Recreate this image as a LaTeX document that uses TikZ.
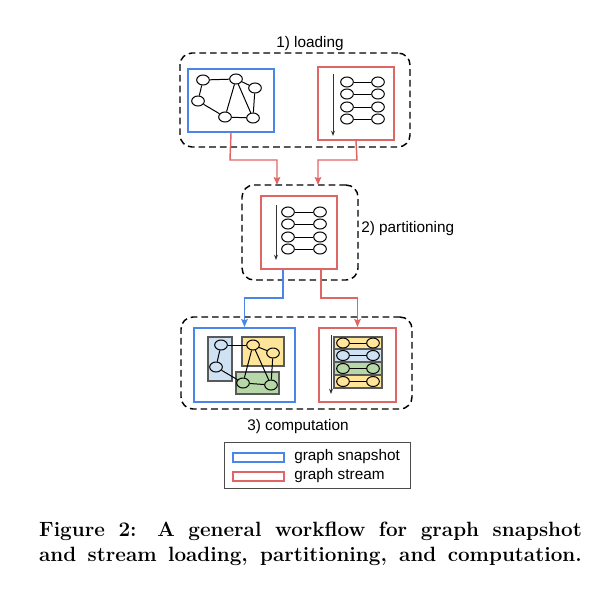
\documentclass[tikz,border=0pt]{standalone}
\usepackage{fontspec}
\newfontfamily\sansfnt{Liberation Sans}
\usetikzlibrary{arrows.meta,shapes.geometric,fit}

\definecolor{snapblue}{HTML}{4A86E8}
\definecolor{streamred}{HTML}{E06666}
\definecolor{partblue}{HTML}{CFE2F3}
\definecolor{partyellow}{HTML}{FFE599}
\definecolor{partgreen}{HTML}{B6D7A8}
\definecolor{partedge}{HTML}{595959}

\tikzset{
  etapa/.style={draw=black, dash pattern=on 5pt off 3pt, line width=1.1pt, rounded corners=9pt, inner sep=0pt},
  snap/.style={draw=snapblue, line width=1.5pt, inner sep=0pt},
  flujo/.style={draw=streamred, line width=1.5pt, inner sep=0pt},
  vert/.style={draw=black, ellipse, line width=0.75pt, minimum width=9.5pt, minimum height=7.5pt, inner sep=0pt},
  arista/.style={draw=black, line width=0.75pt},
  orden/.style={draw=black!80, line width=0.75pt, -{Stealth[length=4pt,width=3pt]}},
  particion/.style={draw=partedge, line width=1.1pt, inner sep=0pt},
  conexion/.style={line width=1.1pt, -{Stealth[length=6pt,width=5pt,inset=1pt]}},
  etiqueta/.style={font=\sansfnt\fontsize{11.5}{13}\selectfont, inner sep=0pt},
  leyenda/.style={draw=black!70, line width=0.75pt, inner sep=0pt},
  pie/.style={anchor=base, inner sep=0pt, font=\fontsize{15.5}{18}\selectfont\bfseries}
}

\begin{document}
\begin{tikzpicture}[x=0.75pt, y=-0.75pt]
    \useasboundingbox (0,0) rectangle (605,592);
    %%%% ETAPAS
    \node[etapa, fit={(180,53) (410,147)}] (carga) {};
    \node[etapa, fit={(242,185) (358,280)}] (particion) {};
    \node[etapa, fit={(181,317) (412,409)}] (computo) {};
    \node[etiqueta] at (310,44) (tcarga) {1) loading};
    \node[etiqueta, anchor=west] at (361,229) (tparticion) {2) partitioning};
    \node[etiqueta] at (298,427) (tcomputo) {3) computation};

    %%%% 1) carga: snapshot
    \node[snap, fit={(188,69) (274,132)}] (snapA) {};
    \node[vert] (a1) at (203,80) {};
    \node[vert] (b1) at (236,79) {};
    \node[vert] (c1) at (255,88) {};
    \node[vert] (d1) at (198,101) {};
    \node[vert] (e1) at (225,117) {};
    \node[vert] (f1) at (253,118) {};
    \draw [arista] (a1) -- (b1);
    \draw [arista] (a1) -- (d1);
    \draw [arista] (d1) -- (e1);
    \draw [arista] (b1) -- (e1);
    \draw [arista] (b1) -- (f1);
    \draw [arista] (b1) -- (c1);
    \draw [arista] (c1) -- (f1);
    \draw [arista] (e1) -- (f1);

    %%%% 1) carga: stream
    \node[flujo, fit={(318,67) (394,140)}] (streamA) {};
    \coordinate (iniA) at (333,74);
    \coordinate (finA) at (333,136);
    \draw [orden] (iniA) -- (finA);
    \foreach \y [count=\i] in {82,94,107,119} {
      \node[vert] (la\i) at (347,\y) {};
      \node[vert] (ra\i) at (378,\y) {};
      \draw [arista] (la\i) -- (ra\i);
    }

    %%%% 2) particion
    \node[flujo, fit={(261,196) (337,269)}] (streamB) {};
    \coordinate (iniB) at (276,205);
    \coordinate (finB) at (276,260);
    \draw [orden] (iniB) -- (finB);
    \foreach \y [count=\i] in {212,224,237,249} {
      \node[vert] (lb\i) at (288,\y) {};
      \node[vert] (rb\i) at (320,\y) {};
      \draw [arista] (lb\i) -- (rb\i);
    }

    %%%% 3) computo: snapshot particionado
    \node[snap, fit={(194,328) (295,402)}] (snapC) {};
    \node[particion, fill=partblue, fit={(208,337) (232,381)}] (pazul) {};
    \node[particion, fill=partyellow, fit={(242,337) (284,366)}] (pamar) {};
    \node[particion, fill=partgreen, fit={(236,372) (279,394)}] (pverde) {};
    \node[vert] (a3) at (221,345) {};
    \node[vert] (b3) at (216,367) {};
    \node[vert] (c3) at (253,345) {};
    \node[vert] (d3) at (273,353) {};
    \node[vert] (e3) at (243,383) {};
    \node[vert] (f3) at (271,385) {};
    \draw [arista] (a3) -- (c3);
    \draw [arista] (a3) -- (b3);
    \draw [arista] (b3) -- (e3);
    \draw [arista] (c3) -- (e3);
    \draw [arista] (c3) -- (f3);
    \draw [arista] (c3) -- (d3);
    \draw [arista] (d3) -- (f3);
    \draw [arista] (e3) -- (f3);

    %%%% 3) computo: stream particionado
    \node[flujo, fit={(319,328) (396,402)}] (streamC) {};
    \node[particion, fill=partyellow, fit={(334,337) (382,349)}] (fila1) {};
    \node[particion, fill=partblue, fit={(334,349) (382,362)}] (fila2) {};
    \node[particion, fill=partgreen, fit={(334,362) (382,375)}] (fila3) {};
    \node[particion, fill=partyellow, fit={(334,375) (382,388)}] (fila4) {};
    \coordinate (iniC) at (331,335);
    \coordinate (finC) at (331,394);
    \draw [orden] (iniC) -- (finC);
    \foreach \y [count=\i] in {343,355.5,368.5,381.5} {
      \node[vert] (lc\i) at (343,\y) {};
      \node[vert] (rc\i) at (373,\y) {};
      \draw [arista] (lc\i) -- (rc\i);
    }

    %%%% CONEXIONES
    \coordinate (codo1) at (230,160);
    \coordinate (codo2) at (357,160);
    \coordinate (ent1) at (277,185);
    \coordinate (ent2) at (318,185);
    \draw [conexion, streamred] (snapA.south) -- (codo1) -| (ent1);
    \draw [conexion, streamred] (streamA.south) -- (codo2) -| (ent2);
    \coordinate (codo3) at (283,298);
    \coordinate (codo4) at (321,298);
    \draw [conexion, snapblue] ([xshift=-12pt]streamB.south) -- (codo3) -| (snapC.north);
    \draw [conexion, streamred] ([xshift=16.5pt]streamB.south) -- (codo4) -| (streamC.north);

    %%%% LEYENDA
    \node[leyenda, fit={(224,442) (410,488)}] (ley) {};
    \node[snap, line width=1.1pt, fit={(233,453) (284,462)}] (muestraA) {};
    \node[flujo, line width=1.1pt, fit={(233,472) (284,481)}] (muestraB) {};
    \node[etiqueta, anchor=west] at (294,457) (tsnap) {graph snapshot};
    \node[etiqueta, anchor=west] at (294,476) (tstream) {graph stream};

    %%%% PIE
    \node[pie] at (310.5,536) (pie1)
      {\makebox[407pt][s]{Figure 2:\quad A general workflow for graph snapshot}};
    \node[pie] at (310.5,561) (pie2)
      {\makebox[407pt][s]{and stream loading, partitioning, and computation.}};
\end{tikzpicture}
\end{document}
